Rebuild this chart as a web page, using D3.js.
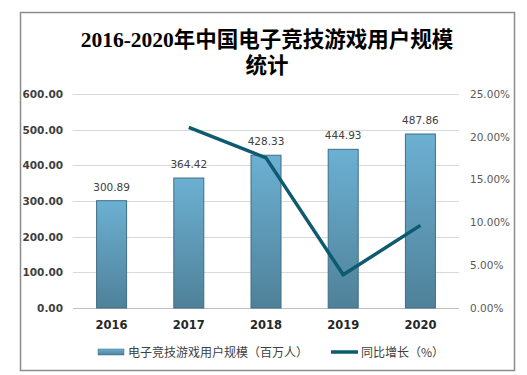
<!DOCTYPE html>
<html>
<head>
<meta charset="utf-8">
<script src="https://cdn.jsdelivr.net/npm/d3@7"></script>
<style>
body { margin: 0; background: #fff; }
</style>
</head>
<body>
<script>
// 数据
var years = ["2016", "2017", "2018", "2019", "2020"];
var users = [300.89, 364.42, 428.33, 444.93, 487.86];
var growth = [null, 21.11, 17.54, 3.88, 9.65];
var leftTicks = [0, 100, 200, 300, 400, 500, 600];
var rightTicks = [0, 5, 10, 15, 20, 25];

var width = 527, height = 375;
var plot = {left: 73, right: 459, top: 94, bottom: 308};

var svg = d3.select("body").append("svg")
	.attr("width", width)
	.attr("height", height);

// 渐变
var defs = svg.append("defs");
var grad = defs.append("linearGradient").attr("id", "barGrad")
	.attr("x1", 0).attr("y1", 0).attr("x2", 0).attr("y2", 1);
grad.append("stop").attr("offset", "0%").attr("stop-color", "#6cb0d2");
grad.append("stop").attr("offset", "100%").attr("stop-color", "#4f8199");

// 外框
svg.append("rect")
	.attr("x", 20.5).attr("y", 12.5)
	.attr("width", 494).attr("height", 358)
	.attr("fill", "none")
	.attr("stroke", "#8c8c8c")
	.attr("stroke-width", 1.5);

// 标题
var title = svg.append("text")
	.attr("text-anchor", "middle")
	.attr("font-family", "'Liberation Serif', 'Noto Sans CJK SC', serif")
	.attr("font-size", 21.5)
	.attr("font-weight", "bold")
	.attr("fill", "#000");
title.append("tspan").attr("x", 267).attr("y", 47).text("2016-2020年中国电子竞技游戏用户规模");
title.append("tspan").attr("x", 267).attr("y", 73).text("统计");

// 比例尺
var xScale = d3.scaleBand()
	.domain(years)
	.range([plot.left, plot.right])
	.padding(0);

var yScale = d3.scaleLinear()
	.domain([0, 600])
	.range([plot.bottom, plot.top]);

var y2Scale = d3.scaleLinear()
	.domain([0, 25])
	.range([plot.bottom, plot.top]);

// 网格线
svg.append("g")
	.selectAll("line")
	.data(leftTicks)
	.enter()
	.append("line")
	.attr("x1", plot.left)
	.attr("x2", plot.right)
	.attr("y1", function(d){ return Math.round(yScale(d)) + 0.5; })
	.attr("y2", function(d){ return Math.round(yScale(d)) + 0.5; })
	.attr("stroke", function(d){ return d === 0 ? "#bfbfbf" : "#d9d9d9"; })
	.attr("stroke-width", 1);

// 左轴
var yAxis = d3.axisLeft(yScale)
	.tickValues(leftTicks)
	.tickSize(0)
	.tickPadding(10)
	.tickFormat(d3.format(".2f"));
var gy = svg.append("g")
	.attr("transform", "translate(" + plot.left + ",0)")
	.call(yAxis);
gy.select(".domain").remove();
gy.selectAll("text")
	.attr("font-family", "'DejaVu Sans', Verdana, sans-serif")
	.attr("font-size", 10.5)
	.attr("font-weight", "bold")
	.attr("fill", "#404040");

// 右轴
var y2Axis = d3.axisRight(y2Scale)
	.tickValues(rightTicks)
	.tickSize(0)
	.tickPadding(11)
	.tickFormat(function(d){ return d3.format(".2f")(d) + "%"; });
var gy2 = svg.append("g")
	.attr("transform", "translate(" + plot.right + ",0)")
	.call(y2Axis);
gy2.select(".domain").remove();
gy2.selectAll("text")
	.attr("font-family", "'DejaVu Sans', Verdana, sans-serif")
	.attr("font-size", 10.5)
	.attr("fill", "#595959");

// x轴
var xAxis = d3.axisBottom(xScale).tickSize(0).tickPadding(13);
var gx = svg.append("g")
	.attr("transform", "translate(0," + plot.bottom + ")")
	.call(xAxis);
gx.select(".domain").remove();
gx.selectAll("text")
	.attr("font-family", "'DejaVu Sans', Verdana, sans-serif")
	.attr("font-size", 11.5)
	.attr("font-weight", "bold")
	.attr("fill", "#262626");

// 柱子
var barW = 30;
svg.append("g")
	.selectAll("rect")
	.data(users)
	.enter()
	.append("rect")
	.attr("x", function(d, i){ return xScale(years[i]) + xScale.bandwidth()/2 - barW/2; })
	.attr("y", function(d){ return yScale(d); })
	.attr("width", barW)
	.attr("height", function(d){ return plot.bottom - yScale(d); })
	.attr("fill", "url(#barGrad)")
	.attr("stroke", "#3e6e86")
	.attr("stroke-width", 1);

// 柱子数值
svg.append("g")
	.selectAll("text")
	.data(users)
	.enter()
	.append("text")
	.attr("x", function(d, i){ return xScale(years[i]) + xScale.bandwidth()/2; })
	.attr("y", function(d){ return yScale(d) - 10; })
	.attr("text-anchor", "middle")
	.attr("font-family", "'DejaVu Sans', Verdana, sans-serif")
	.attr("font-size", 10.5)
	.attr("fill", "#404040")
	.text(function(d){ return d3.format(".2f")(d); });

// 折线
var line = d3.line()
	.defined(function(d){ return d != null; })
	.x(function(d, i){ return xScale(years[i]) + xScale.bandwidth()/2; })
	.y(function(d){ return y2Scale(d); });
svg.append("path")
	.datum(growth)
	.attr("d", line)
	.attr("fill", "none")
	.attr("stroke", "#0e5a70")
	.attr("stroke-width", 3.5)
	.attr("stroke-linejoin", "round");

// 图例
var legend = svg.append("g");
legend.append("rect")
	.attr("x", 98).attr("y", 349)
	.attr("width", 26).attr("height", 6)
	.attr("fill", "url(#barGrad)")
	.attr("stroke", "#3e6e86")
	.attr("stroke-width", 0.5);
legend.append("text")
	.attr("x", 128).attr("y", 356.5)
	.attr("font-family", "'Noto Sans CJK SC', sans-serif")
	.attr("font-size", 12)
	.attr("fill", "#404040")
	.text("电子竞技游戏用户规模（百万人）");
legend.append("line")
	.attr("x1", 331).attr("x2", 358)
	.attr("y1", 352).attr("y2", 352)
	.attr("stroke", "#0e5a70")
	.attr("stroke-width", 3.5);
legend.append("text")
	.attr("x", 361).attr("y", 356.5)
	.attr("font-family", "'Noto Sans CJK SC', sans-serif")
	.attr("font-size", 12)
	.attr("fill", "#404040")
	.text("同比增长（%）");
</script>
</body>
</html>
